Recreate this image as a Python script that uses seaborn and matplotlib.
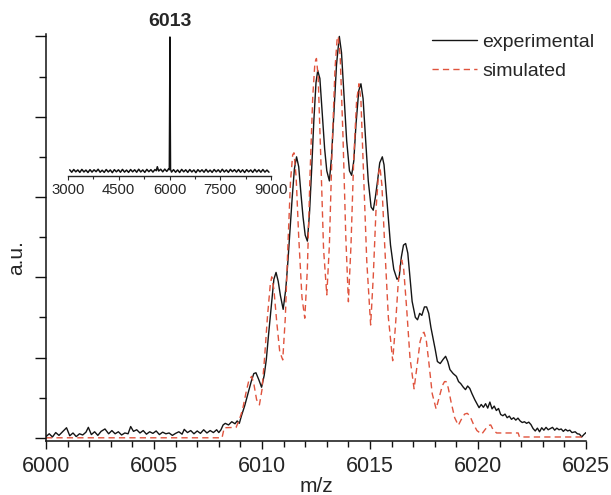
import numpy as np
import pandas as pd
import matplotlib
matplotlib.use("Agg")
import matplotlib.pyplot as plt
from matplotlib.ticker import MultipleLocator
import seaborn as sns

# ---------------- data ----------------
exp_mz = [6000.0, 6000.15, 6000.3, 6000.45, 6000.6, 6000.75, 6000.95, 6001.1, 6001.25, 6001.4,
          6001.55, 6001.7, 6001.85, 6001.96, 6002.1, 6002.25, 6002.4, 6002.55, 6002.73, 6002.9,
          6003.05, 6003.2, 6003.35, 6003.5, 6003.65, 6003.8, 6003.92, 6004.05, 6004.2, 6004.35,
          6004.5, 6004.65, 6004.8, 6004.95, 6005.1, 6005.25, 6005.4, 6005.55, 6005.7, 6005.85,
          6006.0, 6006.15, 6006.3, 6006.4, 6006.55, 6006.7, 6006.85, 6007.0, 6007.15, 6007.3,
          6007.45, 6007.6, 6007.75, 6007.9, 6008.0, 6008.1, 6008.2, 6008.3, 6008.45, 6008.6,
          6008.75, 6008.85, 6008.95, 6009.05, 6009.2, 6009.35, 6009.5, 6009.62, 6009.72, 6009.85,
          6009.98, 6010.1, 6010.2, 6010.3, 6010.45, 6010.55, 6010.65, 6010.75, 6010.85, 6010.98,
          6011.1, 6011.2, 6011.3, 6011.4, 6011.5, 6011.6, 6011.7, 6011.8, 6011.9, 6012.0,
          6012.1, 6012.2, 6012.3, 6012.4, 6012.5, 6012.58, 6012.68, 6012.8, 6012.9, 6013.0,
          6013.12, 6013.22, 6013.32, 6013.45, 6013.58, 6013.68, 6013.8, 6013.92, 6014.05, 6014.15,
          6014.25, 6014.35, 6014.48, 6014.58, 6014.68, 6014.8, 6014.92, 6015.05, 6015.15, 6015.25,
          6015.35, 6015.45, 6015.57, 6015.65, 6015.8, 6015.95, 6016.1, 6016.25, 6016.35, 6016.45,
          6016.55, 6016.65, 6016.75, 6016.85, 6016.95, 6017.1, 6017.2, 6017.3, 6017.4, 6017.52,
          6017.62, 6017.72, 6017.82, 6017.93, 6018.02, 6018.12, 6018.25, 6018.38, 6018.5, 6018.6,
          6018.7, 6018.85, 6019.0, 6019.1, 6019.2, 6019.32, 6019.42, 6019.52, 6019.62, 6019.72,
          6019.85, 6019.95, 6020.05, 6020.15, 6020.25, 6020.35, 6020.45, 6020.55, 6020.65, 6020.75,
          6020.85, 6020.95, 6021.05, 6021.15, 6021.25, 6021.35, 6021.45, 6021.55, 6021.65, 6021.75,
          6021.85, 6021.95, 6022.05, 6022.15, 6022.25, 6022.35, 6022.45, 6022.55, 6022.65, 6022.75,
          6022.85, 6022.95, 6023.05, 6023.15, 6023.25, 6023.35, 6023.45, 6023.55, 6023.65, 6023.75,
          6023.85, 6023.95, 6024.05, 6024.15, 6024.25, 6024.35, 6024.5, 6024.6, 6024.7, 6024.8,
          6024.9, 6025.0]
exp_int = [0.3, 1.0, 0.2, 1.3, 0.6, 1.4, 2.5, 0.5, 1.2, 0.3,
           1.0, 0.7, 1.4, 2.6, 0.8, 1.5, 0.6, 1.6, 2.2, 1.0,
           1.8, 1.0, 1.5, 0.7, 1.2, 1.0, 2.8, 1.6, 2.0, 1.2,
           1.8, 0.9, 1.5, 1.1, 1.7, 0.8, 1.4, 1.0, 1.2, 0.6,
           1.1, 1.5, 0.9, 2.1, 1.3, 1.8, 1.0, 1.7, 1.1, 2.0,
           1.2, 1.8, 1.3, 2.0, 1.3, 2.0, 3.2, 3.6, 3.2, 4.0,
           3.5, 4.2, 3.6, 5.5, 8.0, 11.0, 14.0, 16.0, 16.2, 14.5,
           12.6, 15.5, 19.5, 25.5, 34.0, 39.5, 41.2, 39.0, 35.5, 32.0,
           37.0, 44.0, 52.0, 60.0, 67.0, 70.0, 67.5, 61.0, 55.0, 50.5,
           49.0, 56.0, 67.0, 79.0, 88.5, 91.5, 89.5, 80.0, 72.0, 66.5,
           64.0, 70.0, 80.0, 93.0, 100.0, 96.0, 85.0, 74.0, 66.5, 65.4,
           69.0, 78.0, 86.5, 88.2, 84.5, 74.0, 64.0, 57.5, 56.7, 60.0,
           64.0, 68.5, 70.0, 68.0, 58.0, 48.0, 42.0, 39.5, 40.0, 45.0,
           48.0, 48.4, 46.0, 40.0, 34.0, 30.0, 29.4, 31.0, 30.5, 32.6,
           32.6, 31.0, 27.5, 24.5, 22.0, 19.0, 18.5, 19.5, 20.3, 19.0,
           17.0, 16.0, 15.3, 14.0, 13.5, 12.6, 12.0, 12.9, 12.3, 11.0,
           9.5, 8.5, 7.5, 8.3, 7.6, 8.5, 7.4, 8.9, 7.2, 7.9,
           6.8, 7.3, 5.8, 5.5, 5.9, 5.0, 5.4, 4.6, 5.0, 4.4,
           4.9, 4.2, 3.8, 4.0, 3.6, 3.9, 3.3, 2.3, 1.7, 2.4,
           1.5, 2.5, 1.9, 2.6, 2.0, 2.3, 2.6, 1.9, 2.4, 2.0,
           2.2, 1.6, 2.1, 1.7, 1.9, 1.3, 1.5, 1.0, 0.9, 0.2,
           0.8, 1.3]

sim_mz = [6000.0, 6008.15, 6008.25, 6008.8, 6008.95, 6009.1, 6009.25, 6009.4, 6009.52, 6009.62,
          6009.75, 6009.88, 6010.0, 6010.12, 6010.25, 6010.38, 6010.45, 6010.55, 6010.68, 6010.82,
          6010.96, 6011.08, 6011.2, 6011.32, 6011.42, 6011.48, 6011.58, 6011.7, 6011.85, 6011.98,
          6012.1, 6012.22, 6012.35, 6012.45, 6012.52, 6012.6, 6012.72, 6012.85, 6013.0, 6013.12,
          6013.25, 6013.38, 6013.48, 6013.53, 6013.62, 6013.75, 6013.88, 6014.0, 6014.12, 6014.25,
          6014.38, 6014.49, 6014.58, 6014.7, 6014.85, 6015.03, 6015.15, 6015.28, 6015.4, 6015.46,
          6015.55, 6015.68, 6015.85, 6016.05, 6016.18, 6016.3, 6016.4, 6016.47, 6016.56, 6016.7,
          6016.85, 6017.04, 6017.18, 6017.32, 6017.43, 6017.5, 6017.6, 6017.72, 6017.88, 6018.06,
          6018.2, 6018.35, 6018.45, 6018.52, 6018.62, 6018.75, 6018.92, 6019.09, 6019.22, 6019.38,
          6019.5, 6019.62, 6019.78, 6019.95, 6020.17, 6020.35, 6020.5, 6020.59, 6020.7, 6020.86,
          6021.86, 6021.92, 6025.0]
sim_int = [0.0, 0.0, 2.5, 2.6, 4.5, 7.0, 11.0, 14.5, 15.3, 13.5,
           9.5, 8.2, 12.0, 20.0, 30.0, 38.0, 40.1, 37.0, 29.0, 21.5,
           19.4, 30.0, 48.0, 64.0, 70.5, 71.0, 65.0, 50.0, 35.0, 29.8,
           42.0, 65.0, 85.0, 93.5, 94.5, 90.0, 70.0, 47.0, 35.6, 48.0,
           73.0, 92.0, 99.5, 100.0, 95.0, 75.0, 50.0, 33.9, 48.0, 70.0,
           84.0, 88.2, 84.0, 66.0, 44.0, 28.1, 40.0, 57.0, 66.0, 67.5,
           63.0, 48.0, 30.0, 19.2, 28.0, 38.0, 43.5, 44.3, 42.0, 32.0,
           20.0, 12.2, 18.0, 24.0, 26.0, 26.3, 24.5, 19.0, 11.0, 7.2,
           10.0, 13.0, 14.0, 14.0, 12.5, 9.0, 5.0, 3.1, 4.5, 5.9,
           6.1, 5.5, 3.5, 1.8, 0.9, 2.2, 3.1, 3.2, 2.0, 1.2,
           1.2, 0.2, 0.2]

inset_mz = [3050, 3110, 3170, 3230, 3290, 3350, 3410, 3470, 3530, 3590,
            3650, 3710, 3770, 3830, 3890, 3950, 4010, 4070, 4130, 4190,
            4250, 4310, 4370, 4430, 4490, 4550, 4610, 4670, 4730, 4790,
            4850, 4910, 4970, 5030, 5090, 5150, 5210, 5270, 5330, 5390,
            5450, 5510, 5570,
            5610, 5640, 5680, 5740, 5800, 5860, 5920, 5970, 5995,
            6005, 6013, 6020, 6030,
            6060, 6120, 6180, 6240, 6300, 6360, 6420, 6480, 6540, 6600,
            6660, 6720, 6780, 6840, 6900, 6960, 7020, 7080, 7140, 7200,
            7260, 7320, 7380, 7440, 7500, 7560, 7620, 7680, 7740, 7800,
            7860, 7920, 7980, 8040, 8100, 8160, 8220, 8280, 8340, 8400,
            8460, 8520, 8580, 8640, 8700, 8760, 8820, 8880, 8940]
inset_int = [0.9, -0.9, 1.1, -0.6, 0.8, -1.0, 1.2, -0.7, 0.7, -1.1,
             1.0, -0.8, 0.9, -0.5, 1.3, -0.9, 0.6, -1.0, 1.1, -0.7,
             0.8, -1.2, 1.0, -0.6, 0.9, -0.9, 1.2, -0.8, 0.7, -1.0,
             1.1, -0.6, 0.9, -0.9, 1.3, -0.7, 0.8, -1.0, 1.2, -0.5,
             1.0, -0.8, 1.1,
             0.2, 3.2, 0.0, 1.3, -0.6, 1.4, -0.3, 1.5, 1.0,
             50.0, 100.0, 50.0, 1.2,
             -0.8, 1.0, -0.9, 0.8, -1.1, 1.2, -0.6, 0.9, -1.0, 1.1,
             -0.7, 0.8, -1.2, 1.0, -0.6, 0.9, -0.9, 1.2, -0.8, 0.7,
             -1.0, 1.1, -0.6, 0.9, -0.9, 1.3, -0.7, 0.8, -1.0, 1.2,
             -0.5, 1.0, -0.8, 1.1, -0.9, 0.9, -1.1, 1.0, -0.6, 0.8,
             -1.0, 1.2, -0.7, 0.9, -0.9, 1.1, -0.8, 0.7, -0.9]

main_xticks = [6000, 6005, 6010, 6015, 6020, 6025]
inset_xticks = [3000, 4500, 6000, 7500, 9000]
peak_label = "6013"

exp_df = pd.DataFrame({"m/z": exp_mz, "a.u.": exp_int, "series": "experimental"})
sim_df = pd.DataFrame({"m/z": sim_mz, "a.u.": sim_int, "series": "simulated"})
ins_df = pd.DataFrame({"m/z": inset_mz, "a.u.": inset_int})

# ---------------- style ----------------
sns.set_style("ticks")
plt.rcParams["font.family"] = ["Liberation Sans", "DejaVu Sans"]

W, H = 611, 495
fig = plt.figure(figsize=(W / 100, H / 100), dpi=100)

ax = fig.add_axes([46 / W, (H - 441) / H, 540 / W, (441 - 34) / H])

RED = "#E0533D"
sns.lineplot(data=exp_df, x="m/z", y="a.u.", ax=ax, color="#151515", lw=1.0,
             estimator=None, sort=False, label="experimental")
sns.lineplot(data=sim_df, x="m/z", y="a.u.", ax=ax, color=RED, lw=1.0,
             estimator=None, sort=False, label="simulated",
             linestyle=(0, (4.5, 3)))

ax.set_xlim(6000, 6025)
ax.set_ylim(-0.8, 100.6)
ax.set_xticks(main_xticks)
ax.xaxis.set_minor_locator(MultipleLocator(1))
ax.yaxis.set_major_locator(MultipleLocator(20))
ax.yaxis.set_minor_locator(MultipleLocator(10))
ax.set_yticklabels([])
ax.tick_params(axis="x", which="major", direction="out", length=6, width=1.0,
               labelsize=15.5, pad=5, color="#111111")
ax.tick_params(axis="x", which="minor", direction="out", length=4, width=1.0, color="#111111")
ax.tick_params(axis="y", which="major", direction="out", length=8, width=1.0, color="#111111")
ax.tick_params(axis="y", which="minor", direction="out", length=5, width=1.0, color="#111111")
for s in ["top", "right"]:
    ax.spines[s].set_visible(False)
for s in ["left", "bottom"]:
    ax.spines[s].set_linewidth(1.1)
    ax.spines[s].set_color("#111111")

ax.set_xlabel("m/z", fontsize=15, labelpad=0)
ax.set_ylabel("a.u.", fontsize=15)
ax.xaxis.set_label_coords(0.5, -0.088)
ax.yaxis.set_label_coords(-0.037, 0.45)

leg = ax.legend(loc="upper left", bbox_to_anchor=(432 / W, (H - 33) / H),
                bbox_transform=fig.transFigure, frameon=False, fontsize=14,
                handlelength=2.3, handletextpad=0.3, labelspacing=0.62,
                borderpad=0, borderaxespad=0)

# ---------------- inset ----------------
iax = fig.add_axes([68 / W, (H - 175.7) / H, 203 / W, (175.7 - 37) / H])
iax.patch.set_alpha(0)
sns.lineplot(data=ins_df, x="m/z", y="a.u.", ax=iax, color="#111111", lw=1.1,
             estimator=None, sort=False)
iax.set_xlim(3000, 9000)
iax.set_ylim(-3.5, 100)
iax.set_xticks(inset_xticks)
iax.xaxis.set_minor_locator(MultipleLocator(750))
iax.set_yticks([])
iax.set_xlabel("")
iax.set_ylabel("")
iax.tick_params(axis="x", which="major", direction="out", length=3, width=0.8,
                labelsize=10.7, pad=2)
iax.tick_params(axis="x", which="minor", direction="out", length=2, width=0.8)
for s in ["top", "right", "left"]:
    iax.spines[s].set_visible(False)
iax.spines["bottom"].set_linewidth(1.0)
for ln in iax.get_lines():
    ln.set_clip_on(False)

fig.text(170 / W, (H - 21.7) / H, peak_label, ha="center", va="center",
         fontsize=14, fontweight="bold")

fig.savefig("out.png", dpi=100)
